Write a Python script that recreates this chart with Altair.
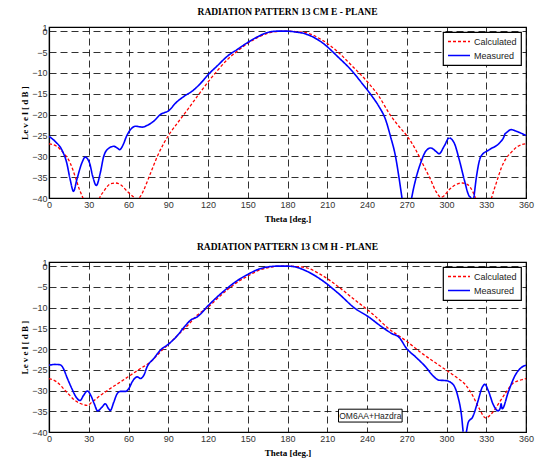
import altair as alt
import pandas as pd

# ---------------- data ----------------
# E-plane, calculated (red dashed)
e_calc_theta = [0, 5.8, 10.9, 16, 19.7, 23, 25.6, 32, 38.2, 41.3, 46.3, 50, 54, 59, 64, 66.3, 69, 71.6, 76.7,
                81.8, 86.8, 90.6, 97, 104.6, 112, 120.5, 127, 135, 142.5, 150, 157.7, 165, 172, 180,
                186, 193, 206, 218.5, 228.6, 241, 249, 256.5, 264, 270.4, 276.7, 283, 288, 292, 295.7,
                298, 302, 307, 312, 316, 319.7, 321.8, 328, 334, 338, 341.6, 345, 349, 353, 356.7, 360]
e_calc_db = [-27, -27.6, -29.2, -31.6, -34.8, -38, -40, -48, -40, -38.4, -36.6, -36.4, -36.8, -38.4, -39.8, -40.3,
             -39.6, -38, -34, -30, -26.8, -24.8, -22, -18.8, -15.6, -12, -9.5, -6.7, -4.7, -2.9, -1.5, -0.5, -0.1, 0,
             -0.1, -0.3, -2.1, -5.1, -8.3, -12.4, -15.6, -19.6, -22.8, -25.2, -28.4, -32.4, -35.6, -38.4, -39.8,
             -39.5, -38, -36.8, -36.4, -36.8, -38.4, -40, -48, -40, -36, -32.6, -30.5, -29, -27.8, -27.2, -27]

# E-plane, measured (blue solid)
e_meas_theta = [0, 4.5, 9.6, 13.4, 16, 18.5, 21, 24.8, 27.3, 30.6, 33, 35.7, 38.7, 41.3, 45, 49, 51.4, 53.4, 56,
                58.5, 61.5, 65.3, 70.4, 74, 79, 84, 90.6, 95.7, 102, 108, 114.7, 120.5, 127, 135, 142.5, 150,
                157.7, 165, 172, 180, 186, 193, 206, 218.5, 228.6, 236, 243.8, 248.9, 254, 257.7, 261.5, 264,
                266.4, 270, 273.7, 276.7, 280.5, 284.3, 288, 292, 294.4, 298.2, 302, 305.8, 309.6, 313.4, 317,
                318.4, 319.5, 320.6, 322.3, 326, 332.4, 340, 343.5, 344.2, 345, 348.9, 352.7, 360]
e_meas_db = [-25.2, -26.4, -28.4, -31.6, -35.6, -38.4, -35.6, -31.6, -30.2, -31.6, -34.8, -37, -34, -30, -28.1,
             -27.6, -28, -28.4, -27.2, -25.2, -23.6, -22.8, -23, -22.6, -21.6, -20, -19, -17.2, -15.6, -14.4,
             -12.4, -10.3, -8.3, -5.9, -4.3, -2.7, -1.3, -0.3, 0, 0, -0.2, -0.6, -2.7, -6.3, -9.5, -12.4, -15.6,
             -18, -21.2, -25.2, -30, -34.8, -40, -48, -40, -35.6, -31.6, -28.8, -28, -28.8, -29.4, -27.6, -25.6,
             -26.8, -30.8, -35.6, -39.5, -40, -42, -40, -35.6, -30, -28.4, -26.8, -25.2, -24.6, -24.4, -23.6,
             -24, -25]

# H-plane, calculated (red dashed)
h_calc_theta = [0, 5.8, 13.4, 19.7, 26, 28.6, 32.4, 38.7, 46.3, 54, 61.5, 69, 76.7, 84, 90.6, 97, 104.6, 112,
                120.5, 127, 135, 142.5, 150, 157.7, 165, 172, 180, 186, 193, 206, 218.5, 231, 243.8, 256.5, 269,
                281.8, 294.4, 307, 314.6, 319.7, 324.8, 329.5, 335, 340, 345, 350, 356.7, 360]
h_calc_db = [-27.1, -27.9, -30.4, -32.4, -33.4, -33.6, -32.8, -31.2, -29.5, -27.9, -26.3, -24.7, -23.1, -20.7,
             -18.7, -16.7, -14.3, -11.8, -9.8, -7.8, -5.6, -3.8, -2.4, -1.1, -0.4, -0.05, 0, -0.1, -0.3, -2.2, -5,
             -8.2, -11.4, -15.1, -17.9, -21.1, -23.9, -26.7, -28.7, -31.2, -34.4, -36.6, -35.2, -32.8, -30.4,
             -28.3, -27.4, -27.1]

# H-plane, measured (blue solid)
h_meas_theta = [0, 4.6, 8.4, 10.9, 13.4, 17.2, 20.5, 23.5, 26, 29, 31.6, 34.2, 36.7, 40, 42.5, 45, 46.3, 48.9,
                51.4, 54, 57.7, 60.3, 62.8, 66.6, 69, 71.6, 74, 79, 84, 90.6, 97, 102, 107, 112, 120.5, 127, 135,
                142.5, 150, 157.7, 165, 172, 180, 186, 193, 206, 218.5, 231, 241, 251.4, 259, 264, 270, 276.7,
                284.3, 289.4, 294.4, 299.5, 304.6, 308.4, 311.5, 312.6, 313.8, 315, 316.5, 319.7, 323.5, 327,
                329, 331.5, 335.3, 339, 340.6, 341.2, 342, 346.6, 351.7, 356.7, 360]
h_meas_db = [-23.9, -23.7, -23.8, -24.7, -26.7, -29.5, -31.6, -32.4, -31.2, -30.1, -31.2, -33.2, -34.9, -34,
             -33.2, -34.4, -34.8, -32.8, -30.8, -30.2, -30.2, -29.5, -27.9, -26.7, -27.1, -26.3, -24.3, -22.3,
             -20.3, -18.7, -16.7, -14.7, -13, -12.2, -9.4, -7.4, -5.2, -3.4, -2, -0.8, -0.2, 0, 0, -0.2, -1, -3.4,
             -6.6, -10.2, -12.2, -14.7, -16.3, -17.1, -19.9, -21.9, -24.3, -26.3, -27.5, -27.6, -28.4, -31.2,
             -36.5, -40, -42, -40, -37.6, -36.4, -32.8, -29.2, -28.5, -30, -33.4, -34.9, -34.2, -33.2, -34.4,
             -30.4, -26.4, -24.4, -23.9]

series_names = ["Calculated", "Measured"]
titles = ["RADIATION PATTERN 13 CM E - PLANE", "RADIATION PATTERN 13 CM H - PLANE"]
x_title = "Theta [deg.]"
y_title = "Le v e l [ d B ]"
x_ticks = list(range(0, 361, 30))
y_ticks = [-40, -35, -30, -25, -20, -15, -10, -5, 0, 1]

# annotation on the H-plane panel (data coordinates)
note_text = ["OM6AA+Hazdra"]
note_x = [242.5]
note_y = [-36.05]
note_box_x = [218.5]
note_box_x2 = [266.5]
note_box_y = [-34.5]
note_box_y2 = [-37.6]


def frame(theta_c, db_c, theta_m, db_m):
    a = pd.DataFrame({"theta": theta_c, "level": db_c, "series": series_names[0], "order": range(len(theta_c))})
    b = pd.DataFrame({"theta": theta_m, "level": db_m, "series": series_names[1], "order": range(len(theta_m))})
    return pd.concat([a, b], ignore_index=True)


df_e = frame(e_calc_theta, e_calc_db, e_meas_theta, e_meas_db)
df_h = frame(h_calc_theta, h_calc_db, h_meas_theta, h_meas_db)

LABEL_FONT = "Liberation Sans Narrow, Liberation Sans, Arial"
SERIF = "Liberation Serif"

X_SCALE = alt.Scale(domain=[0, 360], nice=False, zero=False)
Y_SCALE = alt.Scale(domain=[-40, 1], nice=False, zero=False)
X_AXIS = alt.Axis(values=x_ticks, title=x_title, labelOverlap=False)
Y_AXIS = alt.Axis(values=y_ticks, title=y_title, labelOverlap=False)


def panel(df, title, height, with_note=False):
    lines = alt.Chart(df).mark_line(clip=True, interpolate="monotone").encode(
        x=alt.X("theta:Q", scale=X_SCALE, axis=X_AXIS),
        y=alt.Y("level:Q", scale=Y_SCALE, axis=Y_AXIS),
        order="order:Q",
        color=alt.Color("series:N",
                        scale=alt.Scale(domain=series_names, range=["#ff0000", "#0000ff"]),
                        legend=alt.Legend(title=None)),
        strokeDash=alt.StrokeDash("series:N",
                                  scale=alt.Scale(domain=series_names, range=[[3, 2], [1, 0]]),
                                  legend=alt.Legend(title=None)),
        strokeWidth=alt.StrokeWidth("series:N",
                                    scale=alt.Scale(domain=series_names, range=[1.3, 1.6]),
                                    legend=None),
    )
    layers = [lines]
    if with_note:
        ndf = pd.DataFrame({"text": note_text, "x": note_x, "y": note_y,
                            "bx": note_box_x, "bx2": note_box_x2, "by": note_box_y, "by2": note_box_y2})
        box = alt.Chart(ndf).mark_rect(fill="white", stroke="black", strokeWidth=1).encode(
            x=alt.X("bx:Q", scale=X_SCALE, axis=X_AXIS), x2="bx2:Q",
            y=alt.Y("by:Q", scale=Y_SCALE, axis=Y_AXIS), y2="by2:Q")
        txt = alt.Chart(ndf).mark_text(font=LABEL_FONT, fontSize=8.5, color="#222").encode(
            x=alt.X("x:Q", scale=X_SCALE, axis=X_AXIS),
            y=alt.Y("y:Q", scale=Y_SCALE, axis=Y_AXIS), text="text:N")
        layers += [box, txt]
    return alt.layer(*layers).properties(
        width=477, height=height,
        title=alt.TitleParams(title, font=SERIF, fontSize=9.5, fontWeight="bold", color="black",
                              anchor="middle", offset=7),
    ).resolve_scale(color="independent", strokeDash="independent")


top = panel(df_e, titles[0], 171)
bottom = panel(df_h, titles[1], 170, with_note=True)

chart = alt.vconcat(top, bottom, spacing=16).resolve_scale(
    color="independent", strokeDash="independent", strokeWidth="independent"
).resolve_legend(color="independent", strokeDash="independent").properties(
    padding={"left": 20, "top": 5, "right": 8, "bottom": 1},
    background="white",
).configure_view(
    stroke="black", strokeWidth=1.2,
).configure_axis(
    grid=True, gridColor="black", gridDash=[7, 4], gridWidth=0.9, gridOpacity=0.9,
    domainColor="black", domainWidth=1.2, ticks=False, labelOverlap=False,
    labelFont=LABEL_FONT, labelFontSize=9, labelColor="#333", labelPadding=2,
    titleFont=SERIF, titleFontSize=9, titleFontWeight="bold", titleColor="black",
).configure_axisX(
    titlePadding=5, labelFlush=False,
).configure_axisY(
    titlePadding=2, labelFlush=False,
).configure_legend(
    orient="top-right", offset=5, padding=4, strokeColor="black", fillColor="white",
    symbolType="stroke", symbolSize=484, symbolStrokeWidth=1.5, clipHeight=11,
    labelFont=LABEL_FONT, labelFontSize=9, labelColor="#222", rowPadding=3, labelOffset=3,
    cornerRadius=0, strokeWidth=1.2,
)

chart.save("out.html", embed_options={"renderer": "svg", "actions": False})
